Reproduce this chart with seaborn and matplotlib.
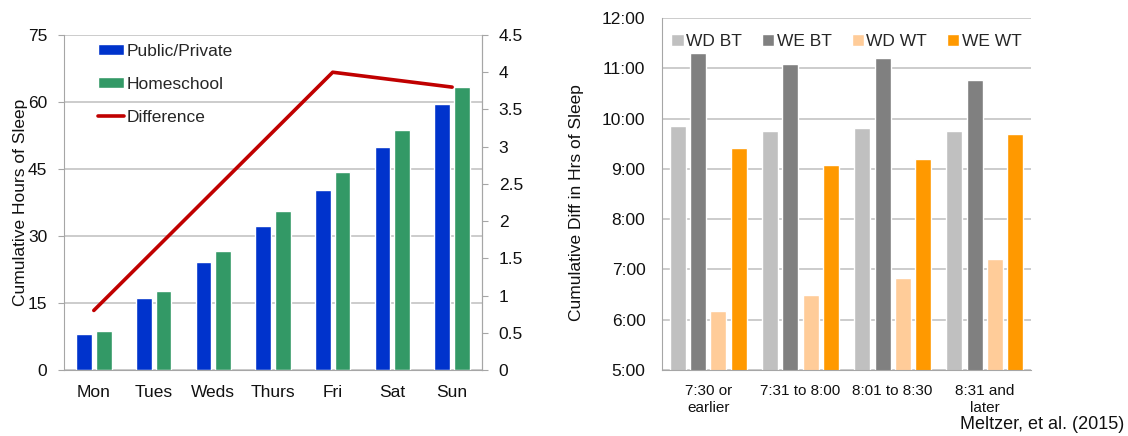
import numpy as np
import pandas as pd
import matplotlib
matplotlib.use("Agg")
import matplotlib.pyplot as plt
from matplotlib.ticker import FixedLocator, FuncFormatter
import seaborn as sns

# ---- data -------------------------------------------------------------
days = ["Mon", "Tues", "Weds", "Thurs", "Fri", "Sat", "Sun"]
public_private = [8.0, 16.2, 24.2, 32.3, 40.4, 50.0, 59.6]
homeschool = [8.8, 17.7, 26.6, 35.5, 44.4, 53.8, 63.4]
difference = [0.8, 1.6, 2.4, 3.2, 4.0, 3.9, 3.8]

start_times = ["7:30 or\nearlier", "7:31 to 8:00", "8:01 to 8:30", "8:31 and\nlater"]
wd_bt = [9.85, 9.75, 9.81, 9.75]
we_bt = [11.30, 11.08, 11.21, 10.76]
wd_wt = [6.18, 6.49, 6.83, 7.20]
we_wt = [9.42, 9.07, 9.20, 9.70]

# ---- style ------------------------------------------------------------
sns.set_style("white")
plt.rcParams["font.family"] = ["Liberation Sans", "DejaVu Sans"]
plt.rcParams["font.size"] = 12

GRID = "#BFBFBF"
SPINE = "#A6A6A6"
TXT = "#111111"

fig = plt.figure(figsize=(11.28, 4.36), dpi=100)
ax1 = fig.add_axes([0.0567, 0.1514, 0.3706, 0.7683])
ax3 = fig.add_axes([0.587, 0.1514, 0.327, 0.8073])

# ---- left chart: cumulative sleep --------------------------------------
school_types = ["Public/Private", "Homeschool"]
df_left = pd.DataFrame({
    "day": days * 2,
    "hours": public_private + homeschool,
    "school": [school_types[0]] * len(days) + [school_types[1]] * len(days),
})
sns.barplot(data=df_left, x="day", y="hours", hue="school", order=days,
            hue_order=school_types, palette=["#0033CC", "#339966"],
            width=0.66, gap=0.2, saturation=1, ax=ax1, legend=True)
ax1.set_ylim(0, 75)
ax1.set_yticks(np.arange(0, 76, 15))
ax1.set_xlim(-0.5, len(days) - 0.5)
ax1.yaxis.grid(True, color=GRID, linewidth=1.1)
ax1.set_axisbelow(True)
ax1.set_xlabel("")
ax1.set_ylabel("Cumulative Hours of Sleep", fontsize=12.5, color=TXT, labelpad=0)
for s in ["left", "bottom", "right"]:
    ax1.spines[s].set_color(SPINE)
ax1.spines["top"].set_visible(False)
ax1.tick_params(axis="y", length=4, color=SPINE, labelsize=12.5, labelcolor=TXT, pad=8)
ax1.tick_params(axis="x", which="major", length=0, labelsize=12.5, labelcolor=TXT, pad=11)
ax1.xaxis.set_minor_locator(FixedLocator(np.arange(-0.5, len(days), 1)))
ax1.tick_params(axis="x", which="minor", length=5, color=SPINE, direction="out")

ax2 = ax1.twinx()
sns.pointplot(x=days, y=difference, order=days, color="#C00000", markers="",
              linewidth=2.6, ax=ax2, label="Difference")
ax2.set_ylim(0, 4.5)
ax2.set_yticks(np.arange(0, 4.51, 0.5))
ax2.yaxis.set_major_formatter(FuncFormatter(lambda v, p: f"{v:g}"))
ax2.set_xlim(-0.5, len(days) - 0.5)
ax2.set_ylabel("Cumulative Diff in Hrs of Sleep", fontsize=12.5, color=TXT, labelpad=33)
ax2.tick_params(axis="y", length=4, color=SPINE, labelsize=12.5, labelcolor=TXT, pad=8)
for s in ax2.spines.values():
    s.set_visible(False)
ax2.spines["right"].set_visible(True)
ax2.spines["right"].set_color(SPINE)
ax2.grid(False)

h1, l1 = ax1.get_legend_handles_labels()
h2, l2 = ax2.get_legend_handles_labels()
ax1.get_legend().remove()
ax2.legend(h1 + h2[:1], l1 + ["Difference"], loc="upper left",
           bbox_to_anchor=(0.066, 0.995), frameon=False, fontsize=12.5,
           handlelength=1.45, handleheight=0.6, handletextpad=0.15,
           labelspacing=1.05, borderaxespad=0)

# ---- right chart: bed and wake times by school start -------------------
series = ["WD BT", "WE BT", "WD WT", "WE WT"]
df_right = pd.DataFrame({
    "start": start_times * 4,
    "time": wd_bt + we_bt + wd_wt + we_wt,
    "series": sum([[s] * len(start_times) for s in series], []),
})
sns.barplot(data=df_right, x="start", y="time", hue="series", order=start_times,
            hue_order=series,
            palette=["#C0C0C0", "#808080", "#FFCC99", "#FF9900"],
            width=0.88, gap=0.21, saturation=1, ax=ax3)
ax3.set_ylim(5, 12)
ax3.set_yticks(np.arange(5, 12.1, 1))
ax3.yaxis.set_major_formatter(FuncFormatter(lambda v, p: f"{int(round(v))}:00"))
ax3.set_xlim(-0.5, len(start_times) - 0.5)
ax3.yaxis.grid(True, color=GRID, linewidth=1.1)
ax3.set_axisbelow(True)
ax3.set_xlabel("")
ax3.set_ylabel("")
ax3.spines["left"].set_color(SPINE)
ax3.spines["bottom"].set_color(SPINE)
ax3.spines["top"].set_visible(False)
ax3.spines["right"].set_visible(False)
ax3.tick_params(axis="y", length=4, color=SPINE, labelsize=12.5, labelcolor=TXT, pad=8)
ax3.tick_params(axis="x", which="major", length=0, labelsize=11, labelcolor=TXT, pad=10)
for lab in ax3.get_xticklabels():
    lab.set_linespacing(1.25)
ax3.xaxis.set_minor_locator(FixedLocator(np.arange(-0.5, len(start_times), 1)))
ax3.tick_params(axis="x", which="minor", length=5, color=SPINE, direction="out")

ax3.legend(loc="upper center", bbox_to_anchor=(0.5, 0.975), ncol=4,
           frameon=False, fontsize=12.5, handlelength=0.7, handleheight=0.7,
           handletextpad=0.15, columnspacing=1.15, borderaxespad=0)

fig.text(0.997, 0.008, "Meltzer, et al. (2015)", ha="right", va="bottom",
         fontsize=13, color=TXT)

fig.savefig("out.png", dpi=100)
